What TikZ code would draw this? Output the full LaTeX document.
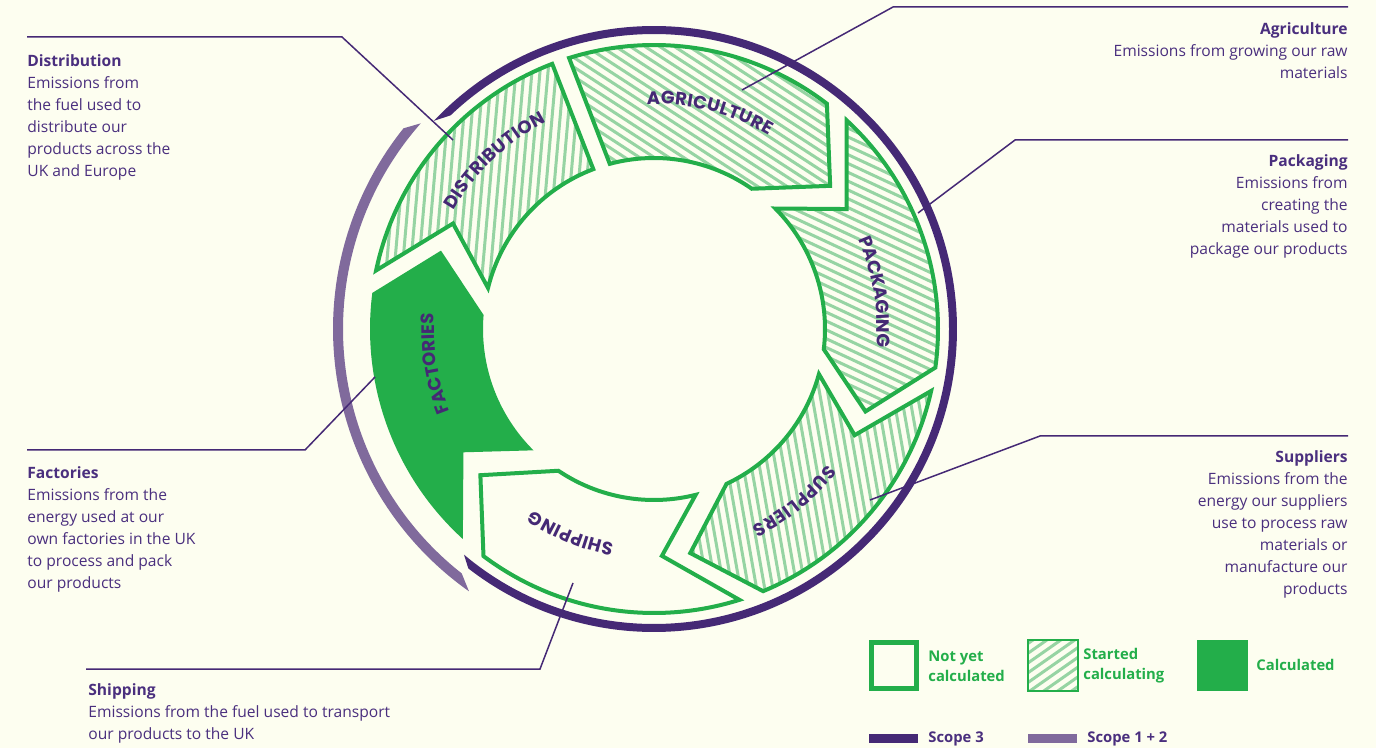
\documentclass[tikz,border=0pt]{standalone}
\usepackage{fontspec}
\setmainfont{Open Sans}
\newfontfamily\ringfont{Poppins}
\usetikzlibrary{decorations.text}

\definecolor{paper}{RGB}{253,254,240}
\definecolor{ringgreen}{RGB}{35,174,74}
\definecolor{stripegreen}{RGB}{150,212,163}
\definecolor{scopethree}{RGB}{69,41,117}
\definecolor{scopeonetwo}{RGB}{128,106,156}
\definecolor{inkpurple}{RGB}{74,47,126}

\tikzset{
  segline/.style={draw=ringgreen, line width=2pt, line join=miter},
  stripe/.style={stripegreen, line width=1.5pt},
  callout/.style={scopethree, line width=0.75pt},
  desc/.style={inner sep=0pt, text=inkpurple, font=\fontsize{7.8}{11}\selectfont},
  legtext/.style={inner sep=0pt, text=ringgreen, font=\bfseries\fontsize{7.4}{10}\selectfont, align=left, anchor=west},
  ringlabel/.style={decorate, decoration={text along path, text align={fit to path}, text color=scopethree,
      text={|\ringfont\bfseries\fontsize{9}{9}\selectfont|#1}}}
}

% ring segments, centre of the ring is the origin
\newcommand{\agripath}{(107.4:284) arc[start angle=107.4, end angle=52.5, radius=284] -- (39.1:227) -- (55.1:171) arc[start angle=55.1, end angle=105, radius=171] -- cycle}
\newcommand{\packpath}{(47.3:284) arc[start angle=47.3, end angle=-7.8, radius=284] -- (-21.3:227) -- (-6.8:171) arc[start angle=-6.8, end angle=44.8, radius=171] -- (31.9:227) -- cycle}
\newcommand{\supppath}{(-12.6:284) arc[start angle=-12.6, end angle=-67.4, radius=284] -- (-80.8:227) -- (-64.9:171) arc[start angle=-64.9, end angle=-15.3, radius=171] -- (-27.9:227) -- cycle}
\newcommand{\shippath}{(-72.5:284) arc[start angle=-72.5, end angle=-126.9, radius=284] -- (-139.9:227) -- (-124:171) arc[start angle=-124, end angle=-75.9, radius=171] -- (-88:227) -- cycle}
\newcommand{\factpath}{(-132.3:284) arc[start angle=-132.3, end angle=-187.3, radius=284] -- (-200.2:227) -- (-184.7:171) arc[start angle=-184.7, end angle=-134.8, radius=171] -- (-147.1:227) -- cycle}
\newcommand{\distpath}{(168.1:284) arc[start angle=168.1, end angle=111, radius=284] -- (110.8:171) arc[start angle=110.8, end angle=166.1, radius=171] -- (152.3:227) -- cycle}

\begin{document}
\begin{tikzpicture}[x=0.5pt, y=0.5pt]
	\useasboundingbox (0,0) rectangle (1376,-748);
	\fill[paper] (0,0) rectangle (1376,-748);

	\begin{scope}[shift={(654,-329)}]
		% scope arcs
		\fill[scopeonetwo] (141.3:321) arc[start angle=141.3, end angle=234.8, radius=321] -- (231.8:311) arc[start angle=231.8, end angle=138.6, radius=311] -- cycle;
		\fill[scopethree] (136.6:303) arc[start angle=136.6, end angle=-127.8, radius=303] -- (-130.1:295) arc[start angle=-130.1, end angle=133.6, radius=295] -- cycle;

		% started calculating
		\begin{scope}
			\clip \agripath;
			\foreach \k in {-45,...,45}
				\draw[stripe, rotate=-33] (-400,\k*8) -- (400,\k*8);
		\end{scope}
		\draw[segline] \agripath;
		\begin{scope}
			\clip \packpath;
			\foreach \k in {-45,...,45}
				\draw[stripe, rotate=-25] (-400,\k*8) -- (400,\k*8);
		\end{scope}
		\draw[segline] \packpath;
		\begin{scope}
			\clip \supppath;
			\foreach \k in {-45,...,45}
				\draw[stripe, rotate=100] (-400,\k*8) -- (400,\k*8);
		\end{scope}
		\draw[segline] \supppath;
		\begin{scope}
			\clip \distpath;
			\foreach \k in {-45,...,45}
				\draw[stripe, rotate=85] (-400,\k*8) -- (400,\k*8);
		\end{scope}
		\draw[segline] \distpath;

		% not yet calculated, calculated
		\draw[segline] \shippath;
		\fill[ringgreen] \factpath;

		% labels on the ring
		\path[ringlabel=AGRICULTURE] (91.8:225) arc[start angle=91.8, end angle=59.4, radius=225];
		\path[ringlabel=DISTRIBUTION] (149.5:233) arc[start angle=149.5, end angle=117.4, radius=233];
		\path[ringlabel=PACKAGING] (23.7:223) arc[start angle=23.7, end angle=-3.8, radius=223];
		\path[ringlabel=SUPPLIERS] (-38:220) arc[start angle=-38, end angle=-63.7, radius=220];
		\path[ringlabel=SHIPPING] (-100.6:218) arc[start angle=-100.6, end angle=-123.6, radius=218];
		\path[ringlabel=FACTORIES] (201.9:220) arc[start angle=201.9, end angle=176.7, radius=220];
	\end{scope}

	% descriptions
	\node[desc, anchor=north west, align=left] (distText) at (27,-54) {\textbf{Distribution}\\Emissions from\\the fuel used to\\distribute our\\products across the\\UK and Europe};
	\node[desc, anchor=north east, align=right] (agriText) at (1348,-22) {\textbf{Agriculture}\\Emissions from growing our raw\\materials};
	\node[desc, anchor=north east, align=right] (packText) at (1348,-154) {\textbf{Packaging}\\Emissions from\\creating the\\materials used to\\package our products};
	\node[desc, anchor=north east, align=right] (suppText) at (1348,-450) {\textbf{Suppliers}\\Emissions from the\\energy our suppliers\\use to process raw\\materials or\\manufacture our\\products};
	\node[desc, anchor=north west, align=left] (factText) at (27,-466) {\textbf{Factories}\\Emissions from the\\energy used at our\\own factories in the UK\\to process and pack\\our products};
	\node[desc, anchor=north west, align=left] (shipText) at (88,-683) {\textbf{Shipping}\\Emissions from the fuel used to transport\\our products to the UK};

	% callout lines
	\coordinate (distA) at (27,-37);
	\coordinate (distB) at (342,-37);
	\coordinate (distC) at (453,-140);
	\coordinate (agriA) at (1348,-7);
	\coordinate (agriB) at (893,-7);
	\coordinate (agriC) at (742,-90);
	\coordinate (packA) at (1348,-140);
	\coordinate (packB) at (1015,-140);
	\coordinate (packC) at (918,-213);
	\coordinate (suppA) at (1348,-436);
	\coordinate (suppB) at (1040,-436);
	\coordinate (suppC) at (870,-500);
	\coordinate (factA) at (27,-450);
	\coordinate (factB) at (305,-450);
	\coordinate (factC) at (375,-377);
	\coordinate (shipA) at (86,-669);
	\coordinate (shipB) at (540,-669);
	\coordinate (shipC) at (573,-583);
	\draw[callout] (distA) -- (distB) -- (distC);
	\draw[callout] (agriA) -- (agriB) -- (agriC);
	\draw[callout] (packA) -- (packB) -- (packC);
	\draw[callout] (suppA) -- (suppB) -- (suppC);
	\draw[callout] (factA) -- (factB) -- (factC);
	\draw[callout] (shipA) -- (shipB) -- (shipC);

	% legend
	\draw[ringgreen, line width=2.25pt] (871.5,-642.5) rectangle (916.5,-688.5);
	\node[legtext] (notyetText) at (928,-666) {Not yet\\calculated};
	\begin{scope}
		\clip (1028,-640) rectangle (1078,-691);
		\foreach \k in {-10,...,10}
			\draw[stripe, shift={(1053,-665)}, rotate=35] (-60,\k*8) -- (60,\k*8);
	\end{scope}
	\draw[ringgreen, line width=1pt] (1028,-640) rectangle (1078,-691);
	\node[legtext] (startedText) at (1083,-666) {Started\\calculating};
	\fill[ringgreen] (1197,-640) rectangle (1248,-691);
	\node[legtext] (calcText) at (1256,-665) {Calculated};
	\fill[scopethree] (869,-734) rectangle (918,-743);
	\node[legtext, text=inkpurple] (scopethreeText) at (928,-738.5) {Scope 3};
	\fill[scopeonetwo] (1028,-734) rectangle (1077,-743);
	\node[legtext, text=inkpurple] (scopeonetwoText) at (1087,-738.5) {Scope 1 + 2};
\end{tikzpicture}
\end{document}
